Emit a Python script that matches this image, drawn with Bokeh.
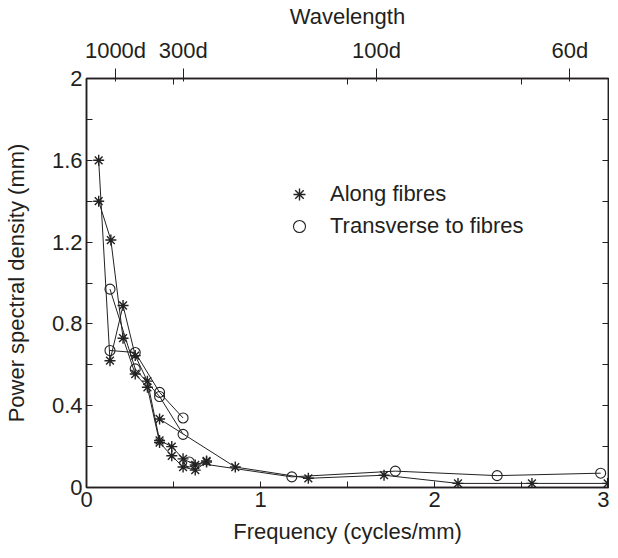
from bokeh.plotting import figure
from bokeh.models import Range1d, LinearAxis, FixedTicker, Legend, LegendItem
from bokeh.embed import file_html
from bokeh.resources import INLINE

# ---------------- data ----------------
# Along fibres, fine-resolution samples (frequency step ~0.069 cycles/mm)
along1_freq = [0.07, 0.135, 0.21, 0.28, 0.35, 0.42, 0.49, 0.555, 0.625, 0.69]
along1_psd = [1.60, 0.62, 0.89, 0.645, 0.52, 0.23, 0.20, 0.14, 0.11, 0.13]
along2_freq = [0.07, 0.14, 0.21, 0.28, 0.35, 0.42, 0.49, 0.555, 0.625, 0.69]
along2_psd = [1.40, 1.21, 0.73, 0.555, 0.49, 0.22, 0.155, 0.10, 0.085, 0.125]
# Along fibres, coarse samples
along3_freq = [0.42, 0.855, 1.275, 1.71, 2.135, 2.56, 2.995]
along3_psd = [0.335, 0.10, 0.045, 0.06, 0.02, 0.02, 0.02]
# Transverse to fibres
trans1_freq = [0.135, 0.28, 0.42, 0.555]
trans1_psd = [0.97, 0.58, 0.445, 0.26]
trans2_freq = [0.135, 0.28, 0.42, 0.555]
trans2_psd = [0.67, 0.66, 0.465, 0.34]
trans3_freq = [0.59, 1.18, 1.775, 2.36, 2.955]
trans3_psd = [0.125, 0.052, 0.08, 0.058, 0.07]

# axes
x_ticks = [0, 1, 2, 3]
x_minor_ticks = [0.5, 1.5, 2.5]
y_ticks = [0.0, 0.4, 0.8, 1.2, 1.6, 2.0]
y_tick_labels = ["0", "0.4", "0.8", "1.2", "1.6", "2"]
y_minor_ticks = [0.2, 0.6, 1.0, 1.4, 1.8]
fibre_diameter_mm = 0.006
wavelength_multiples = [1000, 300, 100, 60]
wavelength_labels = ["1000d", "300d", "100d", "60d"]

FONT = "Liberation Sans"
TXT = "#231f20"
LINE = "#222222"
FS = "22px"

p = figure(width=609, height=550, output_backend="svg", toolbar_location=None,
           x_range=Range1d(0, 3), y_range=Range1d(0, 2),
           x_axis_location=None, y_axis_location=None,
           min_border_left=83, min_border_right=1,
           min_border_top=72, min_border_bottom=63)
p.grid.visible = False
p.outline_line_color = TXT
p.outline_line_width = 1.5
p.background_fill_color = "white"
p.border_fill_color = "white"


def style_axis(ax):
    ax.axis_line_color = TXT
    ax.axis_line_width = 1.5
    ax.major_tick_line_color = TXT
    ax.minor_tick_line_color = TXT
    ax.major_tick_line_width = 1
    ax.minor_tick_line_width = 1
    ax.major_label_text_font = FONT
    ax.major_label_text_font_size = FS
    ax.major_label_text_color = TXT
    ax.axis_label_text_font = FONT
    ax.axis_label_text_font_size = FS
    ax.axis_label_text_font_style = "normal"
    ax.axis_label_text_color = TXT


# bottom axis
xb = LinearAxis(ticker=FixedTicker(ticks=x_ticks, minor_ticks=x_minor_ticks),
                axis_label="Frequency (cycles/mm)")
style_axis(xb)
xb.major_tick_in, xb.major_tick_out = 6, 0
xb.minor_tick_in, xb.minor_tick_out = 6, 0
xb.major_label_standoff = 4
xb.axis_label_standoff = 9
p.add_layout(xb, "below")

# left axis
yl = LinearAxis(ticker=FixedTicker(ticks=y_ticks, minor_ticks=y_minor_ticks),
                axis_label="Power spectral density (mm)")
style_axis(yl)
yl.major_tick_in, yl.major_tick_out = 6, 0
yl.minor_tick_in, yl.minor_tick_out = 6, 0
yl.major_label_standoff = 4
yl.axis_label_standoff = 20
yl.major_label_overrides = {t: s for t, s in zip(y_ticks, y_tick_labels)}
p.add_layout(yl, "left")

# right axis (ticks only)
yr = LinearAxis(ticker=FixedTicker(ticks=y_ticks, minor_ticks=y_minor_ticks))
style_axis(yr)
yr.major_tick_in, yr.major_tick_out = 6, 0
yr.minor_tick_in, yr.minor_tick_out = 6, 0
yr.major_label_standoff = 0
yr.major_label_overrides = {t: "" for t in y_ticks}
p.add_layout(yr, "right")

# top axis: wavelength
wl_ticks = [round(1.0 / (n * fibre_diameter_mm), 4) for n in wavelength_multiples]
xt = LinearAxis(ticker=FixedTicker(ticks=wl_ticks, minor_ticks=x_minor_ticks),
                axis_label="Wavelength")
style_axis(xt)
xt.major_tick_in, xt.major_tick_out = 3, 10
xt.minor_tick_in, xt.minor_tick_out = 6, 0
xt.major_label_standoff = 6
xt.axis_label_standoff = 6
xt.major_label_overrides = {t: s for t, s in zip(wl_ticks, wavelength_labels)}
p.add_layout(xt, "above")

# series
for fx, fy in [(along1_freq, along1_psd), (along2_freq, along2_psd), (along3_freq, along3_psd),
               (trans1_freq, trans1_psd), (trans2_freq, trans2_psd), (trans3_freq, trans3_psd)]:
    p.line(fx, fy, line_color=LINE, line_width=1)

circ_renderers = []
for fx, fy in [(trans1_freq, trans1_psd), (trans2_freq, trans2_psd), (trans3_freq, trans3_psd)]:
    circ_renderers.append(p.scatter(fx, fy, marker="circle", size=10, line_color=LINE,
                                    line_width=1.1, fill_color="white", fill_alpha=0))
star_renderers = []
for fx, fy in [(along1_freq, along1_psd), (along2_freq, along2_psd), (along3_freq, along3_psd)]:
    star_renderers.append(p.scatter(fx, fy, marker="asterisk", size=11, line_color=LINE,
                                    line_width=1.4))

legend = Legend(items=[LegendItem(label="Along fibres", renderers=[star_renderers[0]]),
                       LegendItem(label="Transverse to fibres", renderers=[circ_renderers[0]])],
                location=(198, 246), orientation="vertical")
legend.padding = 0
legend.margin = 0
legend.spacing = 2
legend.glyph_width = 30
legend.glyph_height = 30
legend.label_height = 30
legend.label_standoff = 16
legend.label_text_font = FONT
legend.label_text_font_size = FS
legend.label_text_color = TXT
legend.border_line_color = None
legend.background_fill_alpha = 0
p.add_layout(legend)

open("out.html", "w").write(file_html(p, INLINE))
